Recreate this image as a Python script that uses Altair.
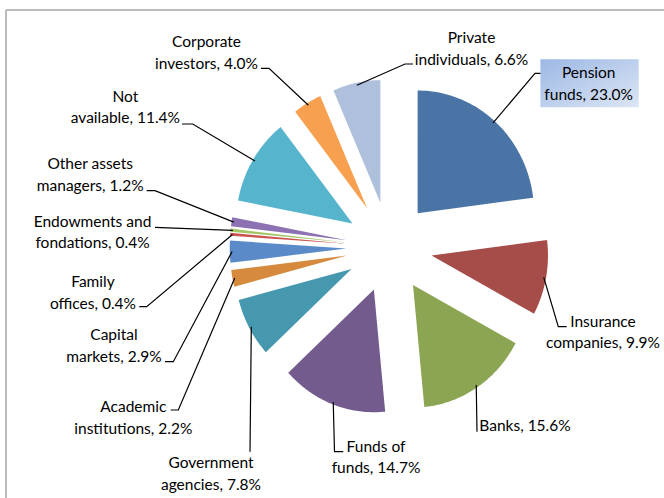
import altair as alt
import pandas as pd

# ---------------- data ----------------
categories = ["Pension funds", "Insurance companies", "Banks", "Funds of funds",
              "Government agencies", "Academic institutions", "Capital markets",
              "Family offices", "Endowments and fondations", "Other assets managers",
              "Not available", "Corporate investors", "Private individuals"]
values = [23.0, 9.9, 15.6, 14.7, 7.8, 2.2, 2.9, 0.4, 0.4, 1.2, 11.4, 4.0, 6.6]
first_lines = ["Pension", "Insurance", "", "Funds of", "Government", "Academic",
               "Capital", "Family", "Endowments and", "Other assets", "Not",
               "Corporate", "Private"]
second_lines = ["funds", "companies", "Banks", "funds", "agencies", "institutions",
                "markets", "offices", "fondations", "managers", "available",
                "investors", "individuals"]
colors = ["#4A74A6", "#A64D4A", "#8CA552", "#735B8E", "#4698AF", "#D68A3E",
          "#5B8AC8", "#CB5350", "#A2C565", "#8C72B2", "#56B4CD", "#F7A04F", "#AEC0DC"]

# ---------------- layout (pixels) ----------------
label_x = [588.7, 603.0, 525.0, 376.0, 211.0, 133.3, 114.0, 93.0, 92.5, 90.2, 125.4, 206.5, 471.5]
label_y = [73.3, 321.7, 426.0, 446.7, 463.3, 407.3, 335.0, 282.3, 221.7, 164.3, 96.7, 42.3, 38.3]
elbow_x = [535.0, 558.3, 477.0, 334.5, 250.0, 178.3, 173.3, 146.7, 155.0, 155.0, 192.7, 269.0, 405.0]
elbow_y = [73.3, 326.7, 431.7, 451.7, 451.7, 410.0, 361.7, 306.7, 227.3, 190.7, 124.0, 68.3, 64.0]
end_x = [541.0, 566.7, 477.0, 343.3, 250.0, 170.7, 165.0, 139.3, 155.0, 146.7, 182.0, 261.0, 413.0]
end_y = [73.3, 326.7, 431.7, 451.7, 451.7, 410.0, 361.7, 306.7, 227.3, 190.7, 124.0, 68.3, 64.0]

CX, CY = 389.2, 247.2      # pie centre
RX, RY = 116.5, 122.7      # pie radii
EX, EY = 43.0, 45.3        # explode distance
N = 60                      # points along each arc
FONT = "Lato"

labels = [((f + "\n") if f else "") + s + f", {v:.1f}%"
          for f, s, v in zip(first_lines, second_lines, values)]

df = pd.DataFrame({
    "category": categories, "value": values, "idx": list(range(len(values))),
    "color": colors, "label": labels,
    "lx": label_x, "ly": label_y, "elx": elbow_x, "ely": elbow_y,
    "enx": end_x, "eny": end_y,
})


def angles(chart):
    return chart.transform_window(
        cum="sum(value)", sort=[alt.SortField("idx")], frame=[None, 0]
    ).transform_joinaggregate(
        total="sum(value)"
    ).transform_calculate(
        a0="2*PI*(datum.cum - datum.value)/datum.total",
        a1="2*PI*datum.cum/datum.total",
    ).transform_calculate(
        mid="(datum.a0 + datum.a1)/2"
    )


X = lambda f: alt.X(f, scale=None, axis=None)
Y = lambda f: alt.Y(f, scale=None, axis=None)

pie = angles(alt.Chart(df)).transform_calculate(
    k=f"sequence(0, {N + 2})"
).transform_flatten(["k"]).transform_calculate(
    t=f"clamp((datum.k - 1)/{N - 1}, 0, 1)",
    inner=f"datum.k == 0 || datum.k == {N + 1}",
).transform_calculate(
    ang="datum.a0 + (datum.a1 - datum.a0)*datum.t"
).transform_calculate(
    px=f"{CX} + {EX}*sin(datum.mid) + (datum.inner ? 0 : {RX}*sin(datum.ang))",
    py=f"{CY} - {EY}*cos(datum.mid) - (datum.inner ? 0 : {RY}*cos(datum.ang))",
).mark_line(filled=True, strokeWidth=0).encode(
    x=X("px:Q"), y=Y("py:Q"),
    order=alt.Order("k:Q"),
    detail="category:N",
    color=alt.Color("color:N", scale=None, legend=None),
)

leaders = angles(alt.Chart(df)).transform_calculate(
    k="sequence(0, 3)"
).transform_flatten(["k"]).transform_calculate(
    px=f"datum.k == 0 ? {CX} + {EX + RX * 0.98}*sin(datum.mid) : (datum.k == 1 ? datum.elx : datum.enx)",
    py=f"datum.k == 0 ? {CY} - {EY + RY * 0.98}*cos(datum.mid) : (datum.k == 1 ? datum.ely : datum.eny)",
).mark_line(color="black", strokeWidth=1.2).encode(
    x=X("px:Q"), y=Y("py:Q"),
    order=alt.Order("k:Q"),
    detail="category:N",
)

box = alt.Chart(pd.DataFrame({"x": [540.4], "x2": [638.7], "y": [59.3], "y2": [107.3]})).mark_rect(
    fill=alt.LinearGradient(
        gradient="linear", x1=0, x2=1, y1=0, y2=1,
        stops=[alt.GradientStop(color="#9DB8E4", offset=0),
               alt.GradientStop(color="#DCE6F5", offset=1)],
    )
).encode(x=X("x:Q"), x2="x2:Q", y=Y("y:Q"), y2="y2:Q")

text = alt.Chart(df).mark_text(
    font=FONT, fontSize=15.5, lineBreak="\n", lineHeight=21.5,
    align="center", baseline="middle", color="black",
).encode(x=X("lx:Q"), y=Y("ly:Q"), text="label:N")

border_v = alt.Chart(pd.DataFrame({"a": [0]})).mark_rule(color="#A6A6A6", strokeWidth=1.5).encode(
    x=alt.value(6), y=alt.value(10), y2=alt.value(498))
border_h = alt.Chart(pd.DataFrame({"a": [0]})).mark_rule(color="#A6A6A6", strokeWidth=1.5).encode(
    x=alt.value(6), x2=alt.value(664), y=alt.value(10))

chart = alt.layer(border_v, border_h, pie, leaders, box, text).properties(
    width=664, height=498,
    autosize=alt.AutoSizeParams(type="none"),
    padding=0,
).configure_view(stroke=None)

chart.save("out.html", embed_options={"renderer": "svg", "actions": False})
